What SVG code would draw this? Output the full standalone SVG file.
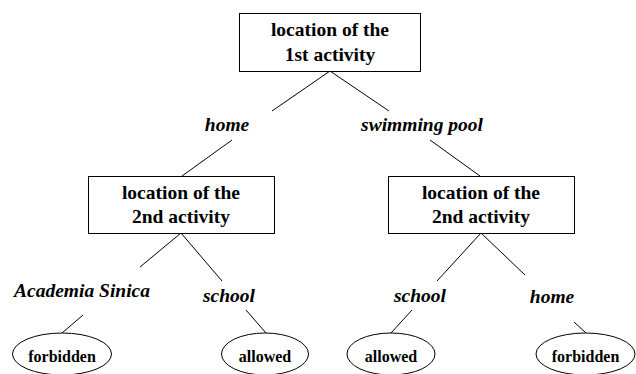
<svg xmlns="http://www.w3.org/2000/svg" width="636" height="374" viewBox="0 0 636 374">
<style>
.box{fill:#fff;stroke:#000;stroke-width:1}
.ov{fill:#fff;stroke:#000;stroke-width:1}
.bt{font-family:'Liberation Serif',serif;font-weight:bold;font-size:19.5px;text-anchor:middle;fill:#000}
.lb{font-family:'Liberation Serif',serif;font-weight:bold;font-style:italic;font-size:19.5px;text-anchor:middle;fill:#000}
.ot{font-family:'Liberation Serif',serif;font-weight:bold;font-size:16px;text-anchor:middle;fill:#000}
.e{stroke:#000;stroke-width:1;fill:none}
</style>
<rect width="636" height="374" fill="#fff"/>
<g id="connectors">
<line class="e" x1="330" y1="71" x2="272" y2="111"/>
<line class="e" x1="330" y1="71" x2="389" y2="111"/>
<line class="e" x1="232" y1="140" x2="182" y2="176"/>
<line class="e" x1="430" y1="140" x2="480" y2="176"/>
<line class="e" x1="181" y1="233" x2="140" y2="267"/>
<line class="e" x1="181" y1="233" x2="222" y2="281"/>
<line class="e" x1="481" y1="233" x2="437" y2="281"/>
<line class="e" x1="481" y1="233" x2="525" y2="275"/>
<line class="e" x1="83" y1="315" x2="62" y2="333"/>
<line class="e" x1="246" y1="310" x2="266" y2="333"/>
<line class="e" x1="412" y1="310" x2="391" y2="333"/>
<line class="e" x1="574" y1="322" x2="586" y2="333"/>
</g>
<g id="root">
<rect class="box" x="239.5" y="13.5" width="181" height="58"/>
<text class="bt" x="330" y="36">location of the</text>
<text class="bt" x="330" y="61">1st activity</text>
</g>
<g id="label-home-1">
<text class="lb" x="227" y="131">home</text>
</g>
<g id="label-swimming-pool">
<text class="lb" x="422" y="131">swimming pool</text>
</g>
<g id="second-left">
<rect class="box" x="88.5" y="176.5" width="186" height="57"/>
<text class="bt" x="181" y="199">location of the</text>
<text class="bt" x="181" y="223">2nd activity</text>
</g>
<g id="second-right">
<rect class="box" x="388.5" y="176.5" width="186" height="57"/>
<text class="bt" x="481" y="199">location of the</text>
<text class="bt" x="481" y="223">2nd activity</text>
</g>
<g id="label-academia-sinica">
<text class="lb" x="82" y="297">Academia Sinica</text>
</g>
<g id="label-school-left">
<text class="lb" x="229" y="302">school</text>
</g>
<g id="label-school-right">
<text class="lb" x="420" y="302">school</text>
</g>
<g id="label-home-2">
<text class="lb" x="552" y="303">home</text>
</g>
<g id="leaf-forbidden-left">
<ellipse class="ov" cx="62" cy="354" rx="49.5" ry="21"/>
<text class="ot" x="62" y="362">forbidden</text>
</g>
<g id="leaf-allowed-left">
<ellipse class="ov" cx="265" cy="354" rx="43.5" ry="21"/>
<text class="ot" x="265" y="362">allowed</text>
</g>
<g id="leaf-allowed-right">
<ellipse class="ov" cx="391" cy="354" rx="44" ry="21"/>
<text class="ot" x="391" y="362">allowed</text>
</g>
<g id="leaf-forbidden-right">
<ellipse class="ov" cx="585.5" cy="354" rx="49.5" ry="21"/>
<text class="ot" x="585.5" y="362">forbidden</text>
</g>
</svg>
